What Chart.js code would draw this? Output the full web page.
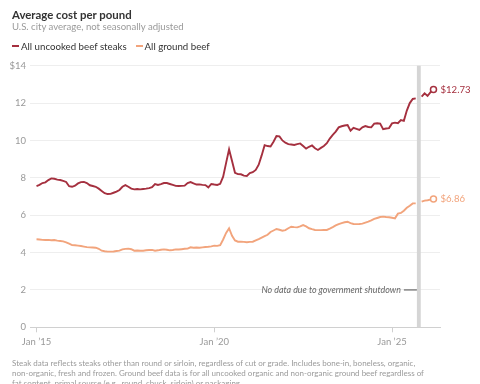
<!DOCTYPE html>
<html><head><meta charset="utf-8">
<script src="https://cdn.jsdelivr.net/npm/chart.js@4.4.1/dist/chart.umd.min.js"></script>
<style>
html,body{margin:0;padding:0;background:#fff;}
body{width:480px;height:384px;position:relative;overflow:hidden;font-family:Lato,"Open Sans",sans-serif;}
#wrap{position:absolute;left:0;top:0;width:480px;height:384px;}
.t{position:absolute;white-space:nowrap;}
#title{left:12px;top:8px;font-size:11.4px;line-height:14px;font-weight:700;color:#333;}
#sub{left:12px;top:21px;font-size:9.6px;line-height:12px;color:#9a9a9a;}
#legend{left:12px;top:39.5px;font-size:9.7px;line-height:12px;color:#333;}
.sw{display:inline-block;width:7px;height:2px;vertical-align:middle;margin-right:2px;position:relative;top:-1px;}
.li{margin-right:9px;}
#foot{left:12px;top:358px;font-size:8px;line-height:10px;color:#9a9a9a;}
</style></head>
<body>
<div id="wrap"><canvas id="c" width="480" height="384"></canvas></div>
<div class="t" id="title">Average cost per pound</div>
<div class="t" id="sub">U.S. city average, not seasonally adjusted</div>
<div class="t" id="legend"><span class="li"><span class="sw" style="background:#a5303f"></span>All uncooked beef steaks</span><span class="li"><span class="sw" style="background:#f2a47c"></span>All ground beef</span></div>
<div class="t" id="foot">Steak data reflects steaks other than round or sirloin, regardless of cut or grade. Includes bone-in, boneless, organic,<br>non-organic, fresh and frozen. Ground beef data is for all uncooked organic and non-organic ground beef regardless of<br>fat content, primal source (e.g., round, chuck, sirloin) or packaging.</div>
<script>
// Monthly values, index 0 = Jan 2015. null = no data (Oct 2025 shutdown)
const seriesNames = ["All uncooked beef steaks", "All ground beef"];
const steaks = [
 7.56,7.62,7.72,7.76,7.88,7.97,7.95,7.90,7.88,7.84,7.78,7.55,
 7.52,7.58,7.70,7.77,7.78,7.72,7.60,7.56,7.52,7.42,7.30,7.18,
 7.13,7.14,7.20,7.26,7.35,7.52,7.61,7.52,7.42,7.38,7.40,7.38,
 7.40,7.42,7.45,7.50,7.67,7.62,7.66,7.72,7.72,7.67,7.62,7.57,
 7.56,7.57,7.58,7.72,7.77,7.70,7.64,7.65,7.62,7.61,7.49,7.67,
 7.64,7.62,7.68,8.06,8.80,9.52,8.90,8.27,8.20,8.19,8.12,8.10,
 8.25,8.30,8.42,8.70,9.20,9.75,9.70,9.68,9.93,10.24,10.22,10.00,
 9.88,9.80,9.78,9.76,9.80,9.84,9.70,9.56,9.66,9.73,9.58,9.49,
 9.60,9.70,9.85,10.10,10.30,10.47,10.70,10.76,10.80,10.82,10.52,10.68,
 10.62,10.56,10.70,10.77,10.72,10.70,10.90,10.92,10.90,10.60,10.64,10.66,
 10.91,10.95,10.92,11.09,11.05,11.60,12.00,12.22,12.25,null,12.34,12.52,
 12.38,12.58,12.73
];
const groundBeef = [
 4.71,4.70,4.68,4.67,4.68,4.66,4.67,4.64,4.62,4.60,4.55,4.48,
 4.40,4.39,4.37,4.35,4.32,4.29,4.28,4.27,4.26,4.20,4.10,4.07,
 4.05,4.05,4.06,4.08,4.10,4.17,4.20,4.21,4.18,4.10,4.11,4.10,
 4.10,4.12,4.14,4.14,4.10,4.12,4.15,4.17,4.15,4.12,4.14,4.17,
 4.16,4.18,4.20,4.21,4.28,4.26,4.27,4.26,4.28,4.30,4.31,4.33,
 4.37,4.36,4.40,4.70,5.05,5.30,4.90,4.65,4.58,4.58,4.57,4.55,
 4.57,4.58,4.65,4.72,4.80,4.88,4.95,5.10,5.18,5.26,5.22,5.17,
 5.20,5.30,5.38,5.36,5.35,5.40,5.47,5.40,5.30,5.25,5.21,5.20,
 5.20,5.21,5.21,5.28,5.36,5.45,5.52,5.58,5.62,5.65,5.58,5.53,
 5.52,5.53,5.55,5.60,5.65,5.72,5.80,5.85,5.90,5.92,5.90,5.89,
 5.86,5.83,6.08,6.12,6.24,6.40,6.50,6.63,6.63,null,6.72,6.78,
 6.80,6.83,6.86
];
const tickMonths = [0, 60, 120];
const tickLabels = ["Jan \u201915", "Jan \u201920", "Jan \u201925"];
const yTicks = [0, 2, 4, 6, 8, 10, 12, 14];
const endLabels = ["$12.73", "$6.86"];
const shutdownMonth = 129; // Oct 2025
const annotation = "No data due to government shutdown";

const colors = ["#a5303f", "#f2a47c"];
const FONT = "Lato, 'Open Sans', sans-serif";

function toXY(arr){ return arr.map((v,i)=>({x:i, y:v})); }

const overlay = {
  id: 'overlay',
  beforeDatasetsDraw(chart){
    const {ctx, chartArea:a, scales:{x,y}} = chart;
    const x0 = x.getPixelForValue(shutdownMonth-0.6), x1 = x.getPixelForValue(shutdownMonth+0.7);
    ctx.save();
    ctx.fillStyle = '#d5d5d5';
    ctx.fillRect(x0, a.top, x1-x0, a.bottom-a.top);
    const ay = y.getPixelForValue(2);
    ctx.strokeStyle = '#666'; ctx.lineWidth = 1.2;
    ctx.beginPath(); ctx.moveTo(x0-13, ay); ctx.lineTo(x0, ay); ctx.stroke();
    ctx.font = 'italic 8.9px ' + FONT; ctx.fillStyle = '#666';
    ctx.textAlign = 'right'; ctx.textBaseline = 'middle';
    ctx.fillText(annotation, x0-16, ay);
    ctx.restore();
  },
  afterDatasetsDraw(chart){
    const {ctx} = chart;
    ctx.save();
    ctx.font = '9.6px ' + FONT; ctx.textAlign = 'left'; ctx.textBaseline = 'middle';
    chart.data.datasets.forEach((ds, di)=>{
      const meta = chart.getDatasetMeta(di);
      const p = meta.data[meta.data.length-1];
      ctx.fillStyle = colors[di];
      ctx.fillText(endLabels[di], p.x + 7, p.y);
    });
    ctx.restore();
  }
};

new Chart(document.getElementById('c'), {
  type: 'line',
  data: {
    datasets: [
      {label: seriesNames[0], data: toXY(steaks), borderColor: colors[0], borderWidth: 1.9},
      {label: seriesNames[1], data: toXY(groundBeef), borderColor: colors[1], borderWidth: 1.9}
    ].map(d=>Object.assign(d, {
      spanGaps: false, tension: 0, fill: false,
      pointRadius: (c)=> c.dataIndex === c.dataset.data.length-1 ? 3 : 0,
      pointBackgroundColor: '#fff', pointBorderColor: d.borderColor, pointBorderWidth: 1.5,
      pointHoverRadius: 0
    }))
  },
  options: {
    responsive: false, animation: false, events: [],
    layout: {padding: {left: 0, right: 40, top: 65.7, bottom: 36.7}},
    plugins: {legend: {display: false}, tooltip: {enabled: false}},
    scales: {
      x: {
        type: 'linear', min: -2.2, max: 136.2,
        afterBuildTicks(s){ s.ticks = tickMonths.map(v=>({value:v})); },
        afterFit(s){ s.height = 20; },
        ticks: {callback: (v)=> tickLabels[tickMonths.indexOf(v)], color: '#999', font: {size: 9.5, family: FONT}, padding: 4, maxRotation: 0, autoSkip: false},
        grid: {drawOnChartArea: false, drawTicks: true, tickLength: 5, color: '#cfcfcf'},
        border: {display: true, color: '#d0d0d0'}
      },
      y: {
        min: 0, max: 14,
        afterBuildTicks(s){ s.ticks = yTicks.map(v=>({value:v})); },
        afterFit(s){ s.width = 30; },
        ticks: {callback: (v)=> v === 14 ? '$14' : String(v), color: '#999', font: {size: 9.5, family: FONT}, padding: 4},
        grid: {drawTicks: false, color: '#eeeeee'},
        border: {display: false}
      }
    }
  },
  plugins: [overlay]
});
</script>
</body></html>
